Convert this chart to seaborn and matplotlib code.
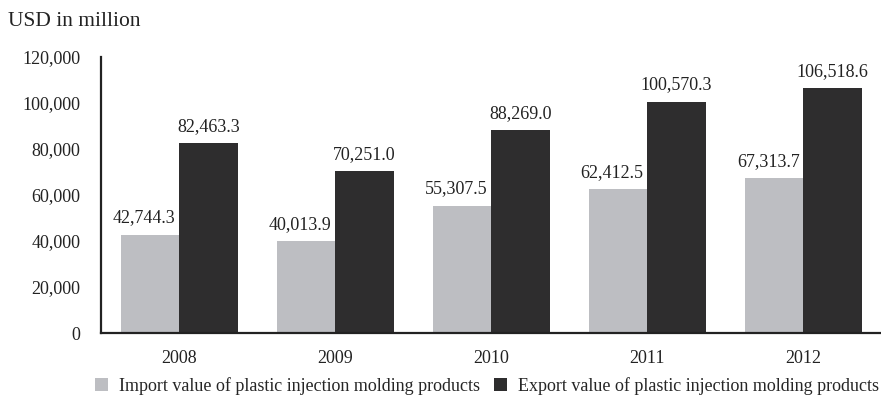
import pandas as pd
import numpy as np
import matplotlib.pyplot as plt
import seaborn as sns

years = ['2008', '2009', '2010', '2011', '2012']
import_values = [42744.3, 40013.9, 55307.5, 62412.5, 67313.7]
export_values = [82463.3, 70251.0, 88269.0, 100570.3, 106518.6]
series_names = ['Import value of plastic injection molding products',
                'Export value of plastic injection molding products']
colors = ['#bdbec2', '#2e2d2e']

df = pd.DataFrame({
    'year': years * 2,
    'value': import_values + export_values,
    'series': [series_names[0]] * 5 + [series_names[1]] * 5,
})

sns.set_style('white')
plt.rcParams['font.family'] = ['Liberation Serif', 'DejaVu Serif']
plt.rcParams['font.size'] = 13

fig = plt.figure(figsize=(8.81, 4.04), dpi=100)
ax = fig.add_axes([101 / 881, 1 - 333 / 404, 1 - 101 / 881, (333 - 57) / 404])

sns.barplot(data=df, x='year', y='value', hue='series', palette=colors,
            width=0.75, gap=0, saturation=1, linewidth=0, ax=ax, legend=True)

# labels above bars; import labels sit a little to the left like the original
for i, cont in enumerate(ax.containers):
    anns = ax.bar_label(cont, labels=[f'{v:,.1f}' for v in cont.datavalues],
                        padding=6, fontsize=13, color='#222222')
    if i == 0:
        for a in anns:
            a.xyann = (-4, a.xyann[1])

ax.set_ylim(0, 120000)
ax.set_xlim(-0.5, 4.5)
ax.set_yticks(np.arange(0, 120001, 20000))
ax.set_yticklabels([f'{int(v):,}' for v in np.arange(0, 120001, 20000)])
ax.set_xlabel('')
ax.set_ylabel('')

ax.set_xticks(np.arange(0.5, 4.5, 1), minor=True)
ax.tick_params(axis='x', which='major', length=0, pad=12)
ax.tick_params(axis='x', which='minor', direction='inout', length=10, width=1, color='#222222')
ax.tick_params(axis='y', direction='inout', length=10, width=1, color='#222222', pad=10)
ax.tick_params(labelsize=13, labelcolor='#222222')

for s in ['top', 'right']:
    ax.spines[s].set_visible(False)
for s in ['left', 'bottom']:
    ax.spines[s].set_color('#222222')
    ax.spines[s].set_linewidth(1.6)

handles, labels = ax.get_legend_handles_labels()
ax.get_legend().remove()
fig.legend(handles, labels, loc='center', bbox_to_anchor=(0.553, 0.045), ncol=2,
           frameon=False, handlelength=0.7, handleheight=0.7, handletextpad=0.6,
           columnspacing=0.8, fontsize=13)

fig.text(8 / 881, 1 - 21 / 404, 'USD in million', fontsize=15.5, va='center', ha='left',
         color='#222222')

fig.savefig('out.png', dpi=100)
